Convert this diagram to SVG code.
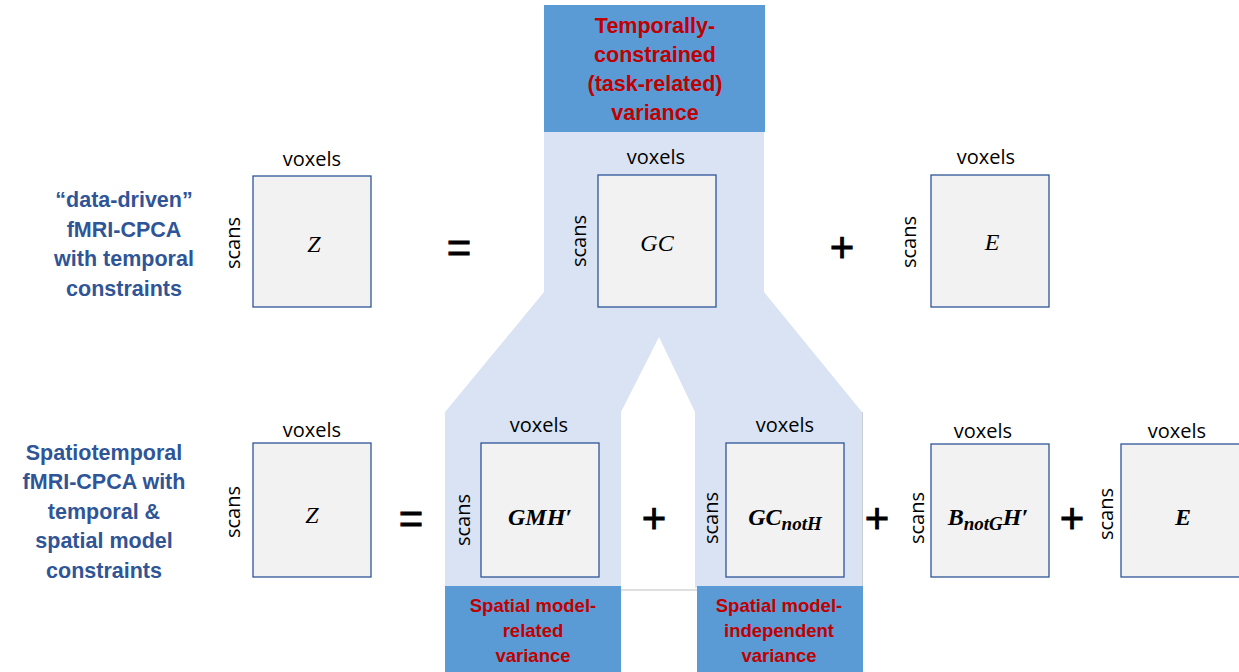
<svg xmlns="http://www.w3.org/2000/svg" width="1239" height="672" viewBox="0 0 1239 672">
<style>
.lbl{font-family:"Liberation Sans",Arial,sans-serif;font-weight:bold;font-size:21.5px;fill:#2F5597;text-anchor:middle}
.red{font-family:"Liberation Sans",Arial,sans-serif;font-weight:bold;fill:#C00000;text-anchor:middle}
.vx{font-family:"Open Sans","Liberation Sans",sans-serif;font-size:20px;fill:#000;text-anchor:middle}
.sc{font-family:"Open Sans","Liberation Sans",sans-serif;font-size:20px;fill:#000;text-anchor:middle;dominant-baseline:central}
.mat{fill:#F2F2F2;stroke:#2F5597;stroke-width:1.3}
.m{font-family:"Liberation Serif","DejaVu Serif",serif;font-style:italic;font-size:24px;fill:#000;text-anchor:middle}
.mb{font-family:"Liberation Serif","DejaVu Serif",serif;font-style:italic;font-weight:bold;font-size:24px;fill:#000;text-anchor:middle}
.op{font-family:"Liberation Sans",Arial,sans-serif;font-size:42px;fill:#000;text-anchor:middle;stroke:#000;stroke-width:0.8}
.blue{fill:#5B9BD5}
</style>
<g id="connectors">
<polygon points="544,132 764,132 764,292 862,412 862,588 695,588 695,412 659,337 621,412 621,588 445,588 445,412 544,292" fill="#DAE3F3"/>
<line x1="621" y1="590" x2="697" y2="590" stroke="#BFBFBF" stroke-width="1"/>
<line x1="862.5" y1="412" x2="862.5" y2="588" stroke="#C8CDD6" stroke-width="1"/>
</g>
<g id="label-top">
<text class="lbl" x="124" y="207">“data-driven”</text>
<text class="lbl" x="124" y="237">fMRI-CPCA</text>
<text class="lbl" x="124" y="266">with temporal</text>
<text class="lbl" x="124" y="296">constraints</text>
</g>
<g id="label-bottom">
<text class="lbl" x="104" y="460">Spatiotemporal</text>
<text class="lbl" x="104" y="489">fMRI-CPCA with</text>
<text class="lbl" x="104" y="519">temporal &amp;</text>
<text class="lbl" x="104" y="548">spatial model</text>
<text class="lbl" x="104" y="578">constraints</text>
</g>
<g id="box-temporal">
<rect class="blue" x="544" y="5" width="221" height="127"/>
<text class="red" font-size="21.5" x="655" y="33">Temporally-</text>
<text class="red" font-size="21.5" x="655" y="62">constrained</text>
<text class="red" font-size="21.5" x="655" y="91">(task-related)</text>
<text class="red" font-size="21.5" x="655" y="120">variance</text>
</g>
<g id="box-spatial-related">
<rect class="blue" x="445" y="586" width="176" height="86"/>
<text class="red" font-size="18.5" x="533" y="612">Spatial model-</text>
<text class="red" font-size="18.5" x="533" y="637">related</text>
<text class="red" font-size="18.5" x="533" y="662">variance</text>
</g>
<g id="box-spatial-independent">
<rect class="blue" x="697" y="586" width="166" height="86"/>
<text class="red" font-size="18.5" x="779" y="612">Spatial model-</text>
<text class="red" font-size="18.5" x="779" y="637">independent</text>
<text class="red" font-size="18.5" x="779" y="662">variance</text>
</g>
<g id="Z1">
<rect class="mat" x="253" y="176" width="118" height="131"/>
<text class="vx" x="312" y="166">voxels</text>
<text class="sc" transform="translate(232,243) rotate(-90)">scans</text>
<text class="m" x="314" y="252">Z</text>
</g>
<g id="GC1">
<rect class="mat" x="598" y="175" width="118" height="132"/>
<text class="vx" x="656" y="164">voxels</text>
<text class="sc" transform="translate(578,241) rotate(-90)">scans</text>
<text class="m" x="657" y="251">GC</text>
</g>
<g id="E1">
<rect class="mat" x="931" y="175" width="118" height="132"/>
<text class="vx" x="986" y="164">voxels</text>
<text class="sc" transform="translate(908,242) rotate(-90)">scans</text>
<text class="m" x="992" y="250">E</text>
</g>
<g id="ops-top">
<text class="op" x="459" y="262">=</text>
<text class="op" x="842" y="262">+</text>
</g>
<g id="Z2">
<rect class="mat" x="253" y="443" width="118" height="134"/>
<text class="vx" x="312" y="437">voxels</text>
<text class="sc" transform="translate(232,512) rotate(-90)">scans</text>
<text class="m" x="312" y="523">Z</text>
</g>
<g id="GMH">
<rect class="mat" x="481" y="443" width="118" height="134"/>
<text class="vx" x="539" y="432">voxels</text>
<text class="sc" transform="translate(462,520) rotate(-90)">scans</text>
<text class="mb" x="540" y="525">GMH′</text>
</g>
<g id="GCnotH">
<rect class="mat" x="726" y="443" width="118" height="134"/>
<text class="vx" x="785" y="432">voxels</text>
<text class="sc" transform="translate(710,518) rotate(-90)">scans</text>
<text class="mb" x="785" y="525">GC<tspan font-size="19" dy="5">notH</tspan></text>
</g>
<g id="BnotGH">
<rect class="mat" x="931" y="444" width="118" height="133"/>
<text class="vx" x="983" y="438">voxels</text>
<text class="sc" transform="translate(916,518) rotate(-90)">scans</text>
<text class="mb" x="988" y="525">B<tspan font-size="19" dy="5">notG</tspan><tspan dy="-5">H′</tspan></text>
</g>
<g id="E2">
<rect class="mat" x="1121" y="444" width="125" height="133"/>
<text class="vx" x="1177" y="438">voxels</text>
<text class="sc" transform="translate(1105,514) rotate(-90)">scans</text>
<text class="mb" x="1183" y="525">E</text>
</g>
<g id="ops-bottom">
<text class="op" x="411" y="533">=</text>
<text class="op" x="654" y="533">+</text>
<text class="op" x="877" y="533">+</text>
<text class="op" x="1072" y="533">+</text>
</g>
</svg>
